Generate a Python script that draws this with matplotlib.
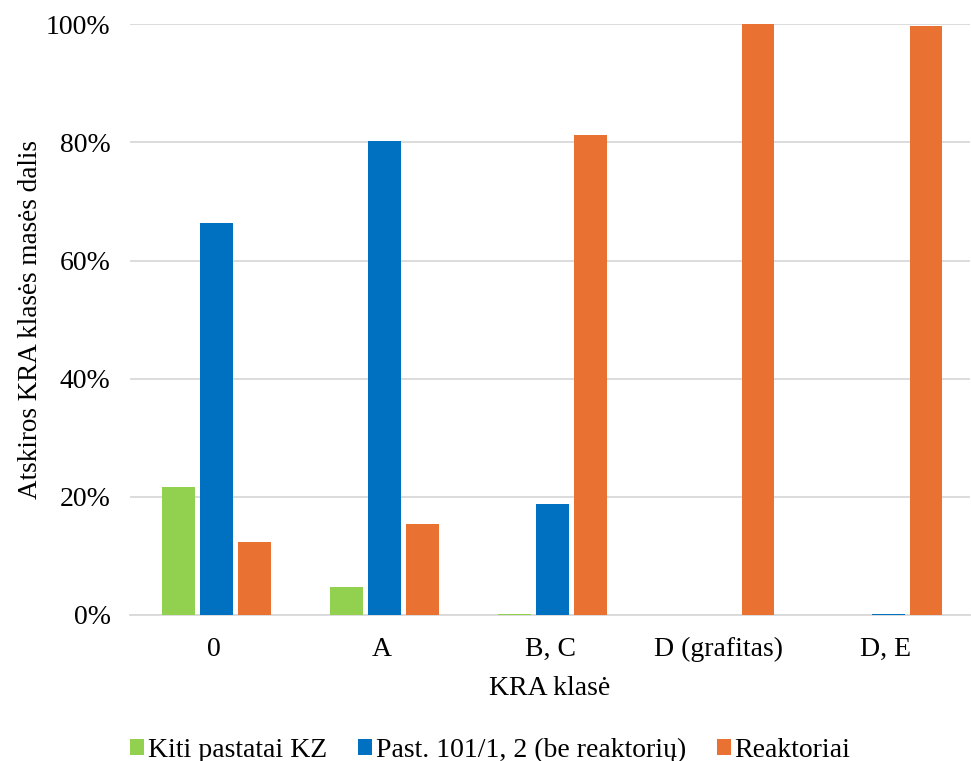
import numpy as np
import matplotlib.pyplot as plt
from matplotlib.ticker import PercentFormatter

plt.rcParams['font.family'] = ['Liberation Serif', 'DejaVu Serif']

categories = ["0", "A", "B, C", "D (grafitas)", "D, E"]
series_names = ["Kiti pastatai KZ", "Past. 101/1, 2 (be reaktorių)", "Reaktoriai"]
kiti = [21.6, 4.7, 0.2, 0.0, 0.0]
past = [66.3, 80.3, 18.7, 0.0, 0.2]
reakt = [12.4, 15.4, 81.2, 100.0, 99.8]
colors = ["#92D050", "#0070C0", "#E97132"]

fig = plt.figure(figsize=(9.71, 7.61), dpi=100)
ax = fig.add_axes([0.134, 0.192, 0.865, 0.776])

x = np.arange(len(categories))
width = 0.196
step = 0.226
for i, (vals, name, col) in enumerate(zip([kiti, past, reakt], series_names, colors)):
    ax.bar(x + (i - 1) * step + 0.012, vals, width, color=col, label=name, zorder=3)

ax.set_xlim(-0.5, len(categories) - 0.5)
ax.set_ylim(0, 100)
ax.set_yticks(np.arange(0, 101, 20))
ax.yaxis.set_major_formatter(PercentFormatter(decimals=0))
ax.grid(axis='y', color='#d9d9d9', linewidth=1.3, zorder=0)
for s in ['top', 'right', 'left']:
    ax.spines[s].set_visible(False)
ax.spines['bottom'].set_color('#d9d9d9')
ax.spines['bottom'].set_linewidth(1.3)
ax.tick_params(axis='both', length=0, labelsize=20)
ax.tick_params(axis='y', pad=14)
ax.set_xticks(x)
ax.set_xticklabels(categories)
ax.tick_params(axis='x', pad=16)

ax.set_xlabel("KRA klasė", fontsize=20, labelpad=10)
ax.set_ylabel("Atskiros KRA klasės masės dalis", fontsize=19.5)
ax.yaxis.set_label_coords(-0.104, 0.5)

fig.legend(loc='lower center', bbox_to_anchor=(0.505, -0.035), ncol=3, frameon=False,
           fontsize=20, handlelength=0.5, handleheight=0.5, handletextpad=0.15,
           columnspacing=1.1)

fig.savefig("out.png", dpi=100)
